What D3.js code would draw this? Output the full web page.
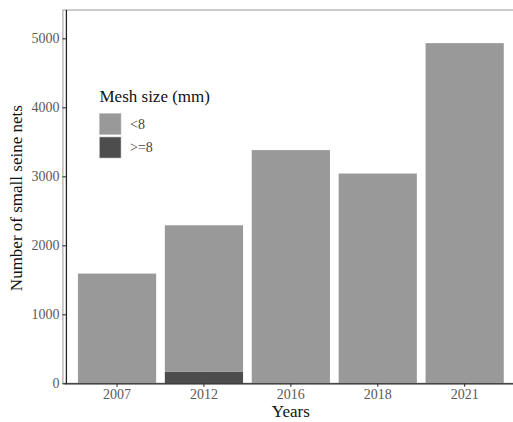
<!DOCTYPE html>
<html>
<head>
<meta charset="utf-8">
<script src="https://cdn.jsdelivr.net/npm/d3@7"></script>
<style>
  html, body { margin: 0; padding: 0; background: #fff; }
  svg { display: block; }
</style>
</head>
<body>
<svg id="chart" width="513" height="422"></svg>
<script>
// Survey years and net counts by mesh-size class
const years = ["2007", "2012", "2016", "2018", "2021"];
const meshClasses = ["<8", ">=8"];
const smallMesh = [1590, 2120, 3380, 3040, 4930];   // mesh < 8 mm
const largeMesh = [0, 170, 0, 0, 0];                // mesh >= 8 mm
const yTicks = [0, 1000, 2000, 3000, 4000, 5000];
const colours = ["#999999", "#4d4d4d"];

const svg = d3.select("#chart");
const font = "'Liberation Serif', 'Times New Roman', serif";

const panel = { left: 64.9, right: 516.8, top: 10, bottom: 383.3 };

const x = d3.scaleBand()
  .domain(years)
  .range([panel.left, panel.right])
  .paddingInner(0.1)
  .paddingOuter(0.15);

const y = d3.scaleLinear()
  .domain([0, 5410])
  .range([panel.bottom, panel.top]);

// stacked rows: >=8 at the bottom, <8 above it
const rows = years.map((yr, i) => ({ year: yr, "<8": smallMesh[i], ">=8": largeMesh[i] }));
const stack = d3.stack().keys([">=8", "<8"])(rows);

// panel border
svg.append("rect")
  .attr("x", panel.left - 2)
  .attr("y", panel.top)
  .attr("width", panel.right - panel.left + 10)
  .attr("height", panel.bottom - panel.top)
  .attr("fill", "none")
  .attr("stroke", "#aaaaaa")
  .attr("stroke-width", 1.2);

// bars
svg.append("g").selectAll("g")
  .data(stack)
  .join("g")
  .attr("fill", d => colours[meshClasses.indexOf(d.key)])
  .selectAll("rect")
  .data(d => d.filter(s => s[1] > s[0]))
  .join("rect")
  .attr("x", d => x(d.data.year))
  .attr("width", x.bandwidth())
  .attr("y", d => y(d[1]))
  .attr("height", d => y(d[0]) - y(d[1]));

// axes
const yAxis = svg.append("g")
  .attr("transform", `translate(${panel.left + 1},0)`)
  .call(d3.axisLeft(y).tickValues(yTicks).tickSize(3.5).tickSizeOuter(0).tickPadding(3).tickFormat(d3.format("d")));
const xAxis = svg.append("g")
  .attr("transform", `translate(0,${panel.bottom})`)
  .call(d3.axisBottom(x).tickSize(3.5).tickSizeOuter(0).tickPadding(2.5));

[yAxis, xAxis].forEach(a => {
  a.select(".domain").attr("stroke", "#222").attr("stroke-width", 1.3);
  a.selectAll(".tick line").attr("stroke", "#333").attr("stroke-width", 1.1);
  a.selectAll(".tick text")
    .attr("font-family", font)
    .attr("font-size", 14)
    .attr("fill", "#5a5a5a");
});
yAxis.select(".domain").attr("d", `M0.5,${panel.bottom}V${panel.top}`);
xAxis.select(".domain").attr("d", `M${panel.left},0.5H513`);

// axis titles
const firstCentre = x("2007") + x.bandwidth() / 2;
const lastCentre = x("2021") + x.bandwidth() / 2;
svg.append("text")
  .attr("x", (firstCentre + lastCentre) / 2)
  .attr("y", 417)
  .attr("text-anchor", "middle")
  .attr("font-family", font)
  .attr("font-size", 17)
  .attr("fill", "#111")
  .text("Years");

svg.append("text")
  .attr("transform", `translate(21.5,${(panel.top + panel.bottom) / 2 + 1.5}) rotate(-90)`)
  .attr("text-anchor", "middle")
  .attr("font-family", font)
  .attr("font-size", 17)
  .attr("fill", "#111")
  .text("Number of small seine nets");

// legend
const legend = svg.append("g").attr("transform", "translate(99.5,101.5)");
legend.append("text")
  .attr("x", 0)
  .attr("y", 0)
  .attr("font-family", font)
  .attr("font-size", 17)
  .attr("fill", "#111")
  .text("Mesh size (mm)");

meshClasses.forEach((m, i) => {
  const g = legend.append("g").attr("transform", `translate(0,${12 + i * 23.5})`);
  g.append("rect")
    .attr("width", 21.5)
    .attr("height", 21)
    .attr("fill", colours[i])
    .attr("stroke", "#bbbbbb")
    .attr("stroke-width", 0.6);
  g.append("text")
    .attr("x", 30.5)
    .attr("y", 10.5)
    .attr("dy", "0.35em")
    .attr("font-family", font)
    .attr("font-size", 14)
    .attr("fill", "#444")
    .text(m);
});
</script>
</body>
</html>
